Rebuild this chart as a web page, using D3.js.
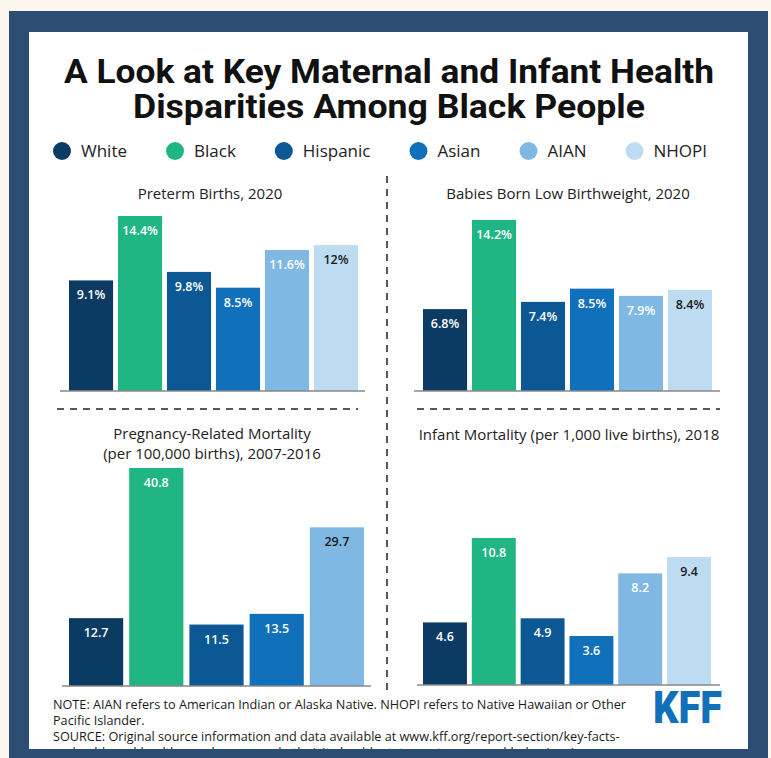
<!DOCTYPE html>
<html>
<head>
<meta charset="utf-8">
<script src="https://cdn.jsdelivr.net/npm/d3@7"></script>
<style>
  html, body { margin: 0; padding: 0; background: #fdf6ee; }
  svg { display: block; }
</style>
</head>
<body>
<svg width="771" height="758"></svg>
<script>
// data
const races = ["White", "Black", "Hispanic", "Asian", "AIAN", "NHOPI"];
const raceColors = ["#0b3a62", "#1fb684", "#0b5895", "#1170ba", "#7fb8e2", "#bddcf1"];

const pretermValues = [9.1, 14.4, 9.8, 8.5, 11.6, 12];
const lowWeightValues = [6.8, 14.2, 7.4, 8.5, 7.9, 8.4];
const pregMortalityValues = [12.7, 40.8, 11.5, 13.5, 29.7];
const infantMortalityValues = [4.6, 10.8, 4.9, 3.6, 8.2, 9.4];

const titleLines = ["A Look at Key Maternal and Infant Health", "Disparities Among Black People"];
const noteLines = [
    "NOTE: AIAN refers to American Indian or Alaska Native. NHOPI refers to Native Hawaiian or Other",
    "Pacific Islander.",
    "SOURCE: Original source information and data available at www.kff.org/report-section/key-facts-",
    "on-health-and-health-care-by-race-and-ethnicity-health-status-outcomes-and-behaviors/"
];

const svg = d3.select("svg");
const W = +svg.attr("width");
const H = +svg.attr("height");

// frame
svg.append("rect").attr("x", 0).attr("y", 0).attr("width", W).attr("height", H).attr("fill", "#fdf6ee");
svg.append("rect").attr("x", 9).attr("y", 11).attr("width", 759).attr("height", H - 11).attr("fill", "#2b4e72");
svg.append("rect").attr("x", 29).attr("y", 32).attr("width", 719).attr("height", 717).attr("fill", "#ffffff");

// title
svg.selectAll(".title")
    .data(titleLines)
    .join("text")
    .attr("class", "title")
    .attr("x", 389)
    .attr("y", (d, i) => 83 + i * 35)
    .attr("text-anchor", "middle")
    .attr("font-family", "Roboto, sans-serif")
    .attr("font-weight", 700)
    .attr("font-size", 33)
    .attr("fill", "#111")
    .attr("textLength", (d, i) => i == 0 ? 650 : 512)
    .attr("lengthAdjust", "spacingAndGlyphs")
    .text(d => d);

// legend
const legend = svg.append("g");
let lx = 62;
races.forEach((r, i) => {
    legend.append("circle")
        .attr("cx", lx).attr("cy", 151).attr("r", 9)
        .attr("fill", raceColors[i]);
    const t = legend.append("text")
        .attr("x", lx + 19).attr("y", 157)
        .attr("font-family", "'Open Sans', sans-serif")
        .attr("font-size", 17)
        .attr("fill", "#222")
        .text(r);
    lx += 19 + t.node().getComputedTextLength() + 48;
});

// dividers
const dash = (x1, y1, x2, y2) => svg.append("line")
    .attr("x1", x1).attr("y1", y1).attr("x2", x2).attr("y2", y2)
    .attr("stroke", "#222").attr("stroke-width", 1.5)
    .attr("stroke-dasharray", "7,6");
dash(387, 176, 387, 690);
dash(57, 409, 358, 409);
dash(417, 409, 720, 409);

// panels
function drawPanel(p) {
    const g = svg.append("g");
    const n = p.values.length;
    const x = d3.scaleBand()
        .domain(races.slice(0, n))
        .range(p.xRange)
        .paddingInner(0.1)
        .paddingOuter(0);
    const y = d3.scaleLinear()
        .domain([0, d3.max(p.values)])
        .range([p.base, p.top]);

    g.selectAll("text.ptitle")
        .data(p.title)
        .join("text")
        .attr("class", "ptitle")
        .attr("x", p.titleX)
        .attr("y", (d, i) => p.titleY + i * 20)
        .attr("text-anchor", "middle")
        .attr("font-family", "'Open Sans', sans-serif")
        .attr("font-size", 15)
        .attr("fill", "#222")
        .text(d => d);

    const data = p.values.map((v, i) => ({race: races[i], v, i}));

    g.selectAll("rect")
        .data(data)
        .join("rect")
        .attr("x", d => x(d.race))
        .attr("y", d => y(d.v))
        .attr("width", x.bandwidth())
        .attr("height", d => p.base - y(d.v))
        .attr("fill", d => raceColors[d.i]);

    g.selectAll("text.lbl")
        .data(data)
        .join("text")
        .attr("class", "lbl")
        .attr("x", d => x(d.race) + x.bandwidth() / 2)
        .attr("y", d => y(d.v) + 19)
        .attr("text-anchor", "middle")
        .attr("font-family", "'Open Sans', sans-serif")
        .attr("font-weight", 600)
        .attr("font-size", 12.5)
        .attr("fill", d => p.dark.includes(d.i) ? "#1a1a1a" : "#ffffff")
        .text(d => d.v + p.suffix);

    g.append("line")
        .attr("x1", p.axis[0]).attr("x2", p.axis[1])
        .attr("y1", p.base).attr("y2", p.base)
        .attr("stroke", "#888").attr("stroke-width", 1.5);
}

drawPanel({title: ["Preterm Births, 2020"], titleX: 210, titleY: 199,
    values: pretermValues, suffix: "%", dark: [5],
    xRange: [69, 358], base: 391, top: 216, axis: [60, 365]});
drawPanel({title: ["Babies Born Low Birthweight, 2020"], titleX: 568, titleY: 199,
    values: lowWeightValues, suffix: "%", dark: [5],
    xRange: [423, 712], base: 391, top: 220, axis: [414, 720]});
drawPanel({title: ["Pregnancy-Related Mortality", "(per 100,000 births), 2007-2016"], titleX: 212, titleY: 439,
    values: pregMortalityValues, suffix: "", dark: [4],
    xRange: [69, 364], base: 686, top: 468, axis: [62, 371]});
drawPanel({title: ["Infant Mortality (per 1,000 live births), 2018"], titleX: 569, titleY: 440,
    values: infantMortalityValues, suffix: "", dark: [5],
    xRange: [423, 711], base: 685, top: 538, axis: [417, 720]});

// footer notes, squeezed like the condensed face of the original
const notes = svg.append("g");
const noteText = notes.selectAll("text")
    .data(noteLines)
    .join("text")
    .attr("x", 53)
    .attr("y", (d, i) => 709 + i * 16)
    .attr("font-family", "'Open Sans', sans-serif")
    .attr("font-size", 12.5)
    .attr("fill", "#1a1a1a")
    .text(d => d);
const squeeze = 573 / noteText.nodes()[0].getComputedTextLength();
noteText.each(function() {
    const len = this.getComputedTextLength();
    d3.select(this).attr("textLength", len * squeeze).attr("lengthAdjust", "spacingAndGlyphs");
});

// bottom frame covers the overflowing line
svg.append("rect").attr("x", 9).attr("y", 749).attr("width", 759).attr("height", H - 749).attr("fill", "#2b4e72");

// logo
svg.append("text")
    .attr("x", 653).attr("y", 723)
    .attr("font-family", "Roboto, sans-serif")
    .attr("font-weight", 900)
    .attr("font-size", 45)
    .attr("fill", "#1170ba")
    .attr("textLength", 69)
    .attr("lengthAdjust", "spacingAndGlyphs")
    .text("KFF");
</script>
</body>
</html>
